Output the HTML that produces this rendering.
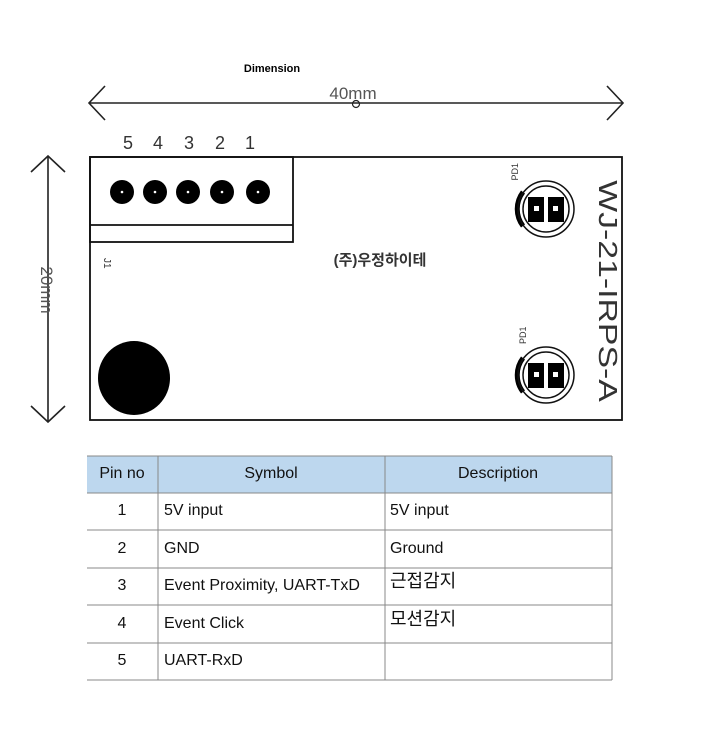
<!DOCTYPE html>
<html><head><meta charset="utf-8"><style>
body{margin:0;background:#fff;width:720px;height:740px;overflow:hidden}
svg{display:block}
text{font-family:"Liberation Sans","Noto Sans CJK KR",sans-serif}
</style></head><body>
<svg width="720" height="740" viewBox="0 0 720 740" xmlns="http://www.w3.org/2000/svg">
<text x="272" y="72" font-size="11" font-weight="bold" text-anchor="middle">Dimension</text>
<g stroke="#222" stroke-width="1.6" fill="none">
<line x1="89" y1="103" x2="623" y2="103"/>
<polyline points="105,86 89,103 105,120"/>
<polyline points="607,86 623,103 607,120"/>
<circle cx="356" cy="104" r="3.5" stroke-width="1.2"/>
<line x1="48" y1="156" x2="48" y2="422"/>
<polyline points="31,172 48,156 65,172"/>
<polyline points="31,406 48,422 65,406"/>
</g>
<text x="353" y="99" font-size="17" fill="#555" text-anchor="middle" font-family="Liberation Mono">40mm</text>
<text transform="translate(41,290) rotate(90)" font-size="17" fill="#555" text-anchor="middle" font-family="Liberation Mono">20mm</text>
<g font-size="18" fill="#333" text-anchor="middle">
<text x="128" y="149">5</text><text x="158" y="149">4</text><text x="189" y="149">3</text><text x="220" y="149">2</text><text x="250" y="149">1</text>
</g>
<g stroke="#111" stroke-width="1.8" fill="none">
<rect x="90" y="157" width="532" height="263"/>
<rect x="90" y="157" width="203" height="85"/>
<line x1="90" y1="225" x2="293" y2="225"/>
</g>
<g fill="#000">
<circle cx="122" cy="192" r="12"/><circle cx="155" cy="192" r="12"/><circle cx="188" cy="192" r="12"/><circle cx="222" cy="192" r="12"/><circle cx="258" cy="192" r="12"/>
<ellipse cx="134" cy="378" rx="36" ry="37"/>
</g>
<g fill="#fff"><circle cx="122" cy="192" r="1.3"/><circle cx="155" cy="192" r="1.3"/><circle cx="188" cy="192" r="1.3"/><circle cx="222" cy="192" r="1.3"/><circle cx="258" cy="192" r="1.3"/></g>
<text transform="translate(104,258) rotate(90)" font-size="10" fill="#333">J1</text>
<text x="380" y="265" font-size="15" fill="#333" text-anchor="middle" font-weight="bold">(주)우정하이테</text>
<g>
<path d="M523,192 A28,28 0 0 0 523,226" stroke="#000" stroke-width="5" fill="none"/>
<circle cx="546" cy="209" r="28" stroke="#111" stroke-width="1.5" fill="none"/>
<circle cx="546" cy="209" r="23" stroke="#111" stroke-width="1.5" fill="none"/>
<rect x="528" y="197" width="16" height="25" fill="#000"/><rect x="548" y="197" width="16" height="25" fill="#000"/>
<rect x="534" y="206" width="5" height="5" fill="#fff"/><rect x="553" y="206" width="5" height="5" fill="#fff"/>
<path d="M523,358 A28,28 0 0 0 523,392" stroke="#000" stroke-width="5" fill="none"/>
<circle cx="546" cy="375" r="28" stroke="#111" stroke-width="1.5" fill="none"/>
<circle cx="546" cy="375" r="23" stroke="#111" stroke-width="1.5" fill="none"/>
<rect x="528" y="363" width="16" height="25" fill="#000"/><rect x="548" y="363" width="16" height="25" fill="#000"/>
<rect x="534" y="372" width="5" height="5" fill="#fff"/><rect x="553" y="372" width="5" height="5" fill="#fff"/>
</g>
<text transform="translate(518,163) rotate(-90)" font-size="9" fill="#333" text-anchor="end">PD1</text>
<text transform="translate(526,344) rotate(-90)" font-size="9" fill="#333">PD1</text>
<text transform="translate(599,291) rotate(90) scale(1.3,1)" font-size="26" fill="#333" text-anchor="middle" font-family="Liberation Mono">WJ-21-IRPS-A</text>
<rect x="87" y="456" width="525" height="37" fill="#bdd7ee"/>
<g stroke="#888" stroke-width="1">
<line x1="87" y1="456" x2="612" y2="456"/>
<line x1="87" y1="493" x2="612" y2="493"/>
<line x1="87" y1="530" x2="612" y2="530"/>
<line x1="87" y1="568" x2="612" y2="568"/>
<line x1="87" y1="605" x2="612" y2="605"/>
<line x1="87" y1="643" x2="612" y2="643"/>
<line x1="87" y1="680" x2="612" y2="680"/>
<line x1="158" y1="456" x2="158" y2="680"/>
<line x1="385" y1="456" x2="385" y2="680"/>
<line x1="612" y1="456" x2="612" y2="680"/>
</g>
<g font-size="16" fill="#111">
<text x="122" y="478" text-anchor="middle">Pin no</text>
<text x="271" y="478" text-anchor="middle">Symbol</text>
<text x="498" y="478" text-anchor="middle">Description</text>
<text x="122" y="515" text-anchor="middle">1</text><text x="164" y="515">5V input</text><text x="390" y="515">5V input</text>
<text x="122" y="553" text-anchor="middle">2</text><text x="164" y="553">GND</text><text x="390" y="553">Ground</text>
<text x="122" y="590" text-anchor="middle">3</text><text x="164" y="590">Event Proximity, UART-TxD</text><text x="390" y="587" font-size="18">근접감지</text>
<text x="122" y="628" text-anchor="middle">4</text><text x="164" y="628">Event Click</text><text x="390" y="625" font-size="18">모션감지</text>
<text x="122" y="665" text-anchor="middle">5</text><text x="164" y="665">UART-RxD</text>
</g>
</svg>
</body></html>
